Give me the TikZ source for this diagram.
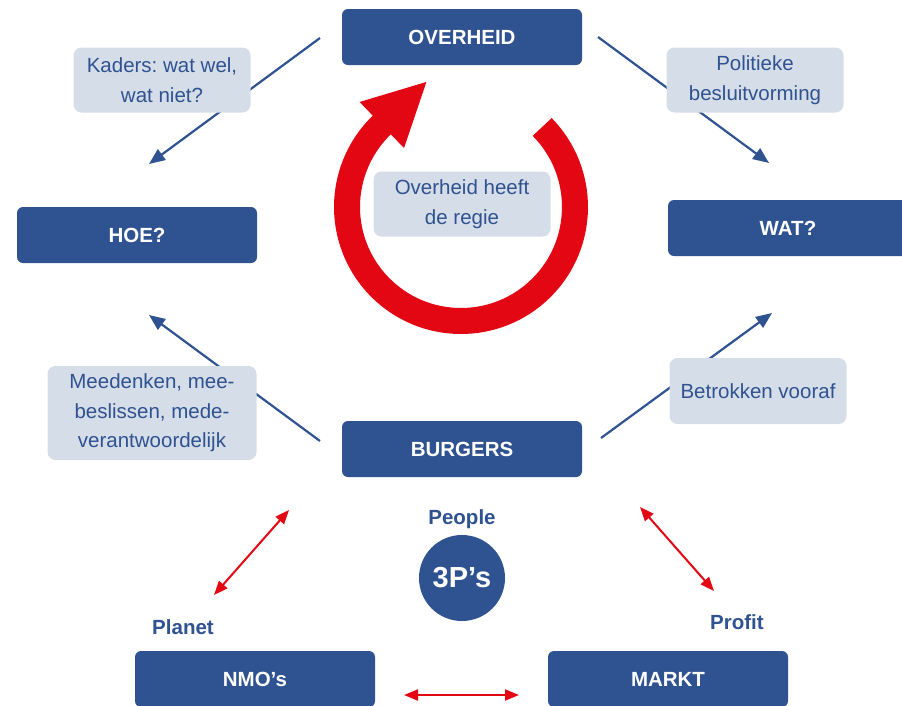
\documentclass[tikz,border=0pt]{standalone}
\usepackage{fontspec}
\setmainfont{Liberation Sans}
\usetikzlibrary{arrows.meta,calc}
\definecolor{navy}{HTML}{2F5290}
\definecolor{pale}{HTML}{D5DDE9}
\definecolor{signal}{HTML}{E30613}
\frenchspacing

\begin{document}
\begin{tikzpicture}[x=1pt,y=-1pt,
  actor/.style={fill=navy, rounded corners=6pt, minimum width=240pt,
    minimum height=56pt, inner sep=0pt, text=white,
    font=\fontsize{20.5}{24}\selectfont\bfseries},
  note/.style={fill=pale, rounded corners=8pt, inner sep=0pt, align=center,
    text=navy, font=\fontsize{20.5}{29.5}\selectfont},
  pillar/.style={anchor=base, inner sep=0pt, text=navy,
    font=\fontsize{20.5}{24}\selectfont\bfseries},
  flow/.style={draw=navy, line width=2.2pt,
    -{Triangle[length=16pt,width=13pt]}},
  link/.style={draw=signal, line width=2pt,
    {Triangle[length=14pt,width=11pt]}-{Triangle[length=14pt,width=11pt]}},
  ring/.style={draw=signal, line width=26pt}
]
\clip (0,0) rectangle (902,705);

% free ends of the connectors
\coordinate (kS) at (320,38);   \coordinate (kE) at (149,164);
\coordinate (pS) at (598,37);   \coordinate (pE) at (769,163);
\coordinate (mS) at (320,441);  \coordinate (mE) at (149,315);
\coordinate (bS) at (601,438);  \coordinate (bE) at (772,313);
\coordinate (lA) at (289,510);  \coordinate (lB) at (214,595);
\coordinate (rA) at (640,507);  \coordinate (rB) at (714,591);
\coordinate (hA) at (404,695);  \coordinate (hB) at (519,695);

% blue flows (drawn first so the notes sit on top)
\draw[flow] (kS) -- (kE);
\draw[flow] (pS) -- (pE);
\draw[flow] (mS) -- (mE);
\draw[flow] (bS) -- (bE);

% red two-way links between the three P's
\draw[link] (lA) -- (lB);
\draw[link] (rA) -- (rB);
\draw[link] (hA) -- (hB);

% circular arrow around the centre note
\coordinate (rc) at (461,207);
\draw[ring] (rc) ++(-44.6:114) arc[start angle=-44.6, end angle=227, radius=114];
\fill[signal] ($(rc)+(226:146)$) -- ($(rc)+(226:82)$)
  -- ($(rc)+(226:114)+(316:62)$) -- cycle;

% main actors
\node[actor] (gov)    at (462,37)  {OVERHEID};
\node[actor] (how)    at (137,235) {HOE?};
\node[actor] (what)   at (788,228) {WAT?};
\node[actor] (people) at (462,449) {BURGERS};
\node[actor] (ngo)    at (255,679) {NMO’s};
\node[actor] (market) at (668,679) {MARKT};

% notes
\node[note, minimum width=177pt, minimum height=65pt] (frame)  at (162,80)  {Kaders: wat wel,\\wat niet?};
\node[note, minimum width=177pt, minimum height=65pt] (policy) at (755,80)  {Politieke\\besluitvorming};
\node[note, minimum width=177pt, minimum height=65pt] (lead)   at (462,204) {Overheid heeft\\de regie};
\node[note, minimum width=209pt, minimum height=94pt] (part)   at (152,413) {Meedenken, mee-\\beslissen, mede-\\verantwoordelijk};
\node[note, minimum width=177pt, minimum height=66pt] (early)  at (758,391) {Betrokken vooraf};

% 3P's
\node[circle, fill=navy, minimum size=86pt, inner sep=0pt, text=white,
  font=\fontsize{29}{32}\selectfont\bfseries] (ppp) at (462,578) {3P’s};
\node[pillar] (lp) at (462,524) {People};
\node[pillar] (lq) at (183,634) {Planet};
\node[pillar] (lr) at (737,629) {Profit};
\end{tikzpicture}
\end{document}
